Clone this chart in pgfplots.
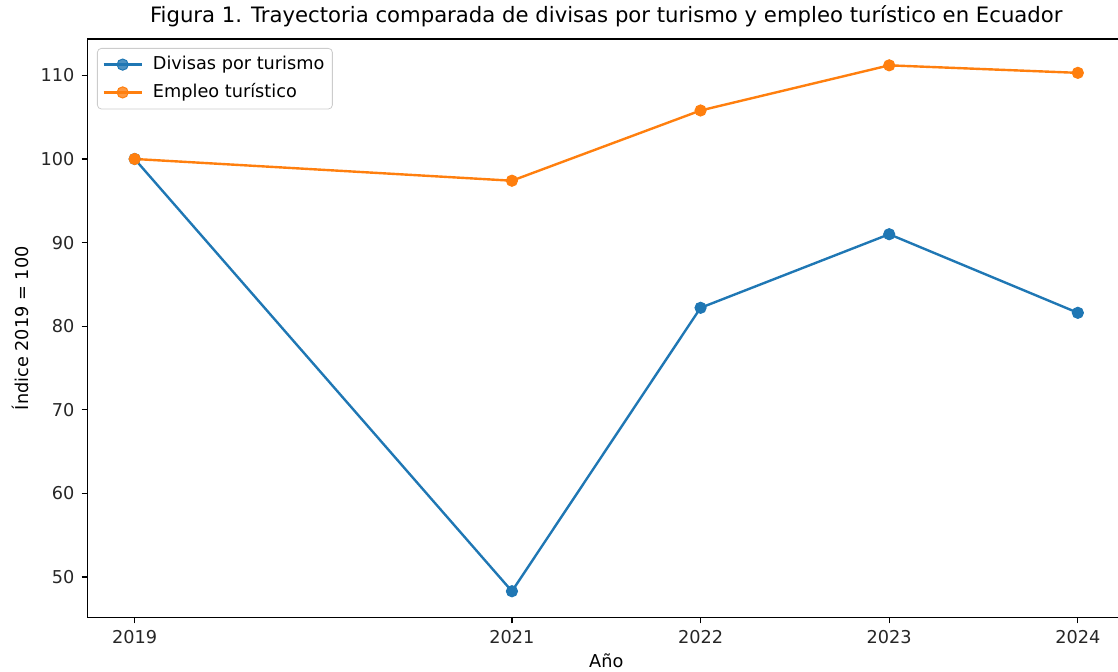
\documentclass[border=0pt]{standalone}
\usepackage{pgfplots}
\pgfplotsset{compat=1.18}
\usepackage{fontspec}
\setmainfont{DejaVu Sans}
\definecolor{tabblue}{HTML}{1F77B4}
\definecolor{taborange}{HTML}{FF7F0E}
\begin{document}
\begin{tikzpicture}
\begin{axis}[
  scale only axis,
  width=518.75pt, height=289.25pt,
  xmin=2018.75, xmax=2024.25,
  ymin=45.16, ymax=114.35,
  xtick={2019,2021,2022,2023,2024},
  ytick={50,60,70,80,90,100,110},
  /pgf/number format/assume math mode=true,
  /pgf/number format/1000 sep={},
  tick label style={font=\fontsize{8.85}{10.5}\selectfont, text=black!85},
  tick align=outside,
  tick pos=left,
  major tick length=3pt,
  tick style={black, line width=0.6pt},
  axis line style={black, line width=0.6pt},
  title={Figura 1. Trayectoria comparada de divisas por turismo y empleo turístico en Ecuador},
  title style={font=\fontsize{10.6}{12.5}\selectfont, yshift=-3.5pt},
  xlabel={Año},
  ylabel={Índice 2019 = 100},
  label style={font=\fontsize{8.85}{10.5}\selectfont},
  ylabel style={yshift=-1pt},
  xlabel style={yshift=2pt},
  legend style={at={(rel axis cs:0,1)}, anchor=north west, xshift=4.75pt, yshift=-4.5pt,
    font=\fontsize{8.85}{10.5}\selectfont, draw=black!20, fill=white, fill opacity=0.8, text opacity=1,
    rounded corners=2pt, inner sep=2.5pt, row sep=2.5pt,
    nodes={inner sep=1.5pt},
    /tikz/every odd column/.append style={column sep=3.5pt}},
  legend cell align=left,
  legend image code/.code={
    \draw[mark repeat=2,mark phase=2] plot coordinates {(0cm,0cm) (0.335cm,0cm) (0.67cm,0cm)};
  },
  every axis plot/.append style={line width=1.2pt},
]
\addplot[color=tabblue, mark=*, mark size=2.8pt, mark options={solid, draw=tabblue, fill=tabblue, line width=0.5pt}]
  coordinates {(2019,100) (2021,48.3) (2022,82.2) (2023,91.0) (2024,81.6)};
\addlegendentry{Divisas por turismo}
\addplot[color=taborange, mark=*, mark size=2.8pt, mark options={solid, draw=taborange, fill=taborange, line width=0.5pt}]
  coordinates {(2019,100) (2021,97.4) (2022,105.8) (2023,111.2) (2024,110.3)};
\addlegendentry{Empleo turístico}
\coordinate (ll) at (rel axis cs:0,0);
\coordinate (ur) at (rel axis cs:1,1);
\end{axis}
\pgfresetboundingbox
\path[use as bounding box] ([xshift=-43.75pt,yshift=-27.25pt]ll) rectangle ([xshift=-3.5pt,yshift=19.5pt]ur);
\end{tikzpicture}
\end{document}
